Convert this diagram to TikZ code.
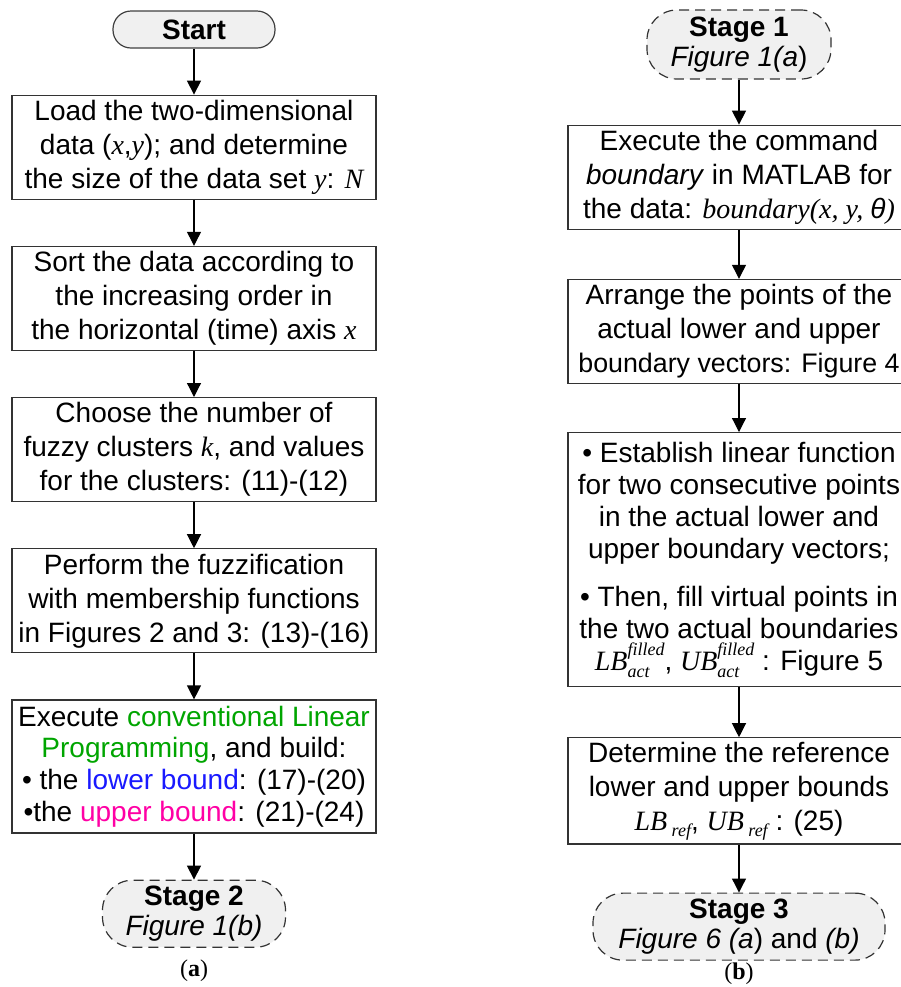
\documentclass[tikz,border=0pt]{standalone}
\usepackage{fontspec}
\setmainfont{Liberation Sans}
\newfontfamily\tms{Liberation Serif}
\usetikzlibrary{arrows.meta,positioning}
\definecolor{lpgreen}{RGB}{0,165,0}
\definecolor{lbblue}{RGB}{25,25,255}
\definecolor{ubpink}{RGB}{255,0,165}
\newcommand{\mv}[1]{{\tms\itshape #1}}
\newcommand{\smv}[1]{{\fontsize{9}{9}\selectfont\mv{#1}}}
\newcommand{\bnd}[3]{\mv{#1}\raisebox{-3.5pt}{\shortstack[l]{\smv{#2}\\[1pt]\smv{#3}}}}
\begin{document}
\begin{tikzpicture}[x=0.5pt,y=-0.5pt,->,>={Triangle[length=7pt,width=7pt]},line width=0.6pt,
  node distance=23pt,font=\fontsize{14}{17}\selectfont,
  task node/.style={rectangle,draw=black!80,fill=white,align=center,minimum width=182pt,minimum height=52pt,inner sep=2pt},
  end node/.style={rectangle,rounded corners=9pt,draw=black!75,fill=black!6,minimum width=81pt,minimum height=18.5pt,inner sep=1pt},
  link node/.style={rectangle,rounded corners=15pt,draw=black!80,dash pattern=on 5pt off 3pt,fill=black!6,align=center,minimum width=91.5pt,minimum height=33.5pt,inner sep=1pt,font=\fontsize{14}{15}\selectfont}]
  \useasboundingbox (0,0) rectangle (901,987);

  % Stage 1
  \node[end node] (1) at (194,29.5) {\bfseries Start};
  \node[task node] (2) [below=of 1] {Load the two-dimensional\\data (\mv{x},\mv{y}); and determine\\the size of the data set \mv{y}: \mv{N}};
  \node[task node] (3) [below=of 2] {Sort the data according to\\the increasing order in\\the horizontal (time) axis \mv{x}};
  \node[task node] (4) [below=of 3] {Choose the number of\\fuzzy clusters \mv{k}, and values\\for the clusters: (11)-(12)};
  \node[task node] (5) [below=of 4] {Perform the fuzzification\\with membership functions\\in Figures 2 and 3: (13)-(16)};
  \node[task node,minimum height=66.5pt,font=\fontsize{14}{15.8}\selectfont] (6) [below=of 5] {Execute \textcolor{lpgreen}{conventional Linear}\\\textcolor{lpgreen}{Programming}, and build:\\\textbullet{} the \textcolor{lbblue}{lower bound}: (17)-(20)\\\textbullet the \textcolor{ubpink}{upper bound}: (21)-(24)};
  \node[link node] (7) [below=of 6] {{\bfseries Stage 2}\\{\itshape Figure 1(b)}};
  \node[font=\tms\fontsize{12}{12}\selectfont] (a) at (194,971) {(\textbf{a})};

  % Stage 2
  \node[link node,minimum width=92pt,minimum height=34.5pt] (8) at (739,44.5) {{\bfseries Stage 1}\\{\itshape Figure 1(a})};
  \node[task node,minimum width=171pt] (9) [below=22.5pt of 8] {Execute the command\\\textit{boundary} in MATLAB for\\the data: \mv{boundary(x, y, }\textit{θ}\mv{)}};
  \node[task node,minimum width=171pt] (10) [below=24.5pt of 9] {Arrange the points of the\\actual lower and upper\\{\fontsize{13.4}{17}\selectfont boundary vectors: Figure 4}};
  \node[task node,minimum width=171pt,minimum height=127pt,font=\fontsize{14}{16}\selectfont] (11) [below=24pt of 10] {\textbullet{} Establish linear function\\for two consecutive points\\in the actual lower and\\upper boundary vectors;\\[8pt]\textbullet{} Then, fill virtual points in\\the two actual boundaries\\\bnd{LB}{filled}{act}, \bnd{UB}{filled}{act} : Figure 5};
  \node[task node,minimum width=171pt] (12) [below=25pt of 11] {Determine the reference\\lower and upper bounds\\\mv{LB}\raisebox{-3pt}{\smv{ ref}}, \mv{UB}\raisebox{-3pt}{\smv{ ref}} : (25)};
  \node[link node,minimum width=146pt] (13) [below=24pt of 12] {{\bfseries Stage 3}\\{\itshape Figure 6 (a})\ and {\itshape (b)}};
  \node[font=\tms\fontsize{12}{12}\selectfont] (b) at (739,974) {(\textbf{b})};

  \path (1) edge (2)
        (2) edge (3)
        (3) edge (4)
        (4) edge (5)
        (5) edge (6)
        (6) edge (7);
  \path (8) edge (9)
        (9) edge (10)
        (10) edge (11)
        (11) edge (12)
        (12) edge (13);
\end{tikzpicture}
\end{document}
